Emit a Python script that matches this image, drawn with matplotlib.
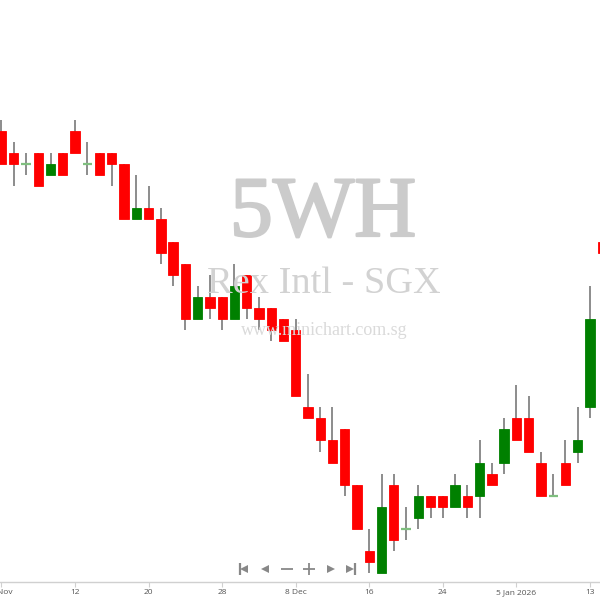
import matplotlib
matplotlib.use("Agg")
import matplotlib.pyplot as plt
import matplotlib.patheffects as pe

# trading days shown (4 Nov 2025 .. 14 Jan 2026)
dates = ["4 Nov", "5 Nov", "6 Nov", "7 Nov", "10 Nov", "11 Nov", "12 Nov", "13 Nov", "14 Nov",
         "17 Nov", "18 Nov", "19 Nov", "20 Nov", "21 Nov", "24 Nov", "25 Nov", "26 Nov", "27 Nov",
         "28 Nov", "1 Dec", "2 Dec", "3 Dec", "4 Dec", "5 Dec", "8 Dec", "9 Dec", "10 Dec", "11 Dec",
         "12 Dec", "15 Dec", "16 Dec", "17 Dec", "18 Dec", "19 Dec", "22 Dec", "23 Dec", "24 Dec",
         "26 Dec", "29 Dec", "30 Dec", "31 Dec", "2 Jan", "5 Jan", "6 Jan", "7 Jan", "8 Jan", "9 Jan",
         "12 Jan", "13 Jan", "14 Jan"]

opens = [.149, .147, .146, .147, .145, .147, .149, .146, .147, .147, .146, .141, .142, .141, .139,
         .137, .132, .134, .134, .132, .136, .133, .133, .132, .131, .124, .123, .121, .122, .117,
         .111, .109, .117, .113, .114, .116, .116, .115, .116, .116, .118, .119, .123, .123, .119,
         .116, .119, .120, .124, .139]
highs = [.150, .148, .147, .147, .147, .147, .150, .148, .147, .147, .146, .145, .144, .142, .139,
         .137, .135, .136, .134, .137, .136, .134, .133, .132, .132, .127, .124, .124, .122, .117,
         .113, .118, .118, .115, .117, .116, .116, .118, .117, .121, .119, .123, .126, .125, .120,
         .118, .121, .124, .135, .139]
lows = [.146, .144, .145, .144, .145, .145, .147, .145, .145, .144, .141, .141, .141, .137, .135,
        .131, .132, .132, .131, .132, .132, .131, .130, .130, .125, .123, .120, .119, .116, .113,
        .109, .109, .111, .112, .113, .114, .114, .115, .114, .114, .117, .118, .121, .120, .116,
        .116, .117, .119, .123, .138]
closes = [.146, .146, .146, .144, .146, .145, .147, .146, .145, .146, .141, .142, .141, .138, .136,
          .132, .134, .133, .132, .135, .133, .132, .131, .130, .125, .123, .121, .119, .117, .113,
          .110, .115, .112, .113, .116, .115, .115, .117, .115, .119, .117, .122, .121, .120, .116,
          .116, .117, .121, .132, .138]

tick_dates = ["4 Nov", "12 Nov", "20 Nov", "28 Nov", "8 Dec", "16 Dec", "24 Dec", "5 Jan", "13 Jan"]
tick_labels = ["4 Nov", "12", "20", "28", "8 Dec", "16", "24", "5 Jan 2026", "13"]

fig = plt.figure(figsize=(6, 6), dpi=100)
ax = fig.add_axes([0, 18 / 600, 1, 582 / 600])

x = list(range(len(dates)))
width = 0.76

ax.vlines(x, lows, highs, color="#8c8c8c", linewidth=1.4, zorder=2)
for i in x:
    o, c = opens[i], closes[i]
    if c == o:
        ax.hlines(o, i - width / 2, i + width / 2, color="#7fbf7f", linewidth=1.6, zorder=3)
    else:
        col = "#008000" if c > o else "#ff0000"
        ax.bar(i, c - o, bottom=o, width=width, color=col, edgecolor=col,
               linewidth=0.6, zorder=3)

ax.set_xlim(-0.122, 48.82)
ax.set_ylim(0.10819, 0.16086)

ax.set_xticks([dates.index(d) for d in tick_dates])
ax.set_xticklabels(tick_labels, fontfamily="Open Sans")
ax.tick_params(axis="x", length=3.6, width=0.8, color="#d0d0d0", labelsize=6,
               labelcolor="#555555", pad=1.5)
ax.set_yticks([])
for s in ["top", "left", "right"]:
    ax.spines[s].set_visible(False)
ax.spines["bottom"].set_color("#d0d0d0")
ax.spines["bottom"].set_linewidth(1)

# watermarks
fig.text(323 / 600, 1 - 236 / 600, "5WH", fontsize=62, family="Liberation Serif",
         color="#cbcbcb", ha="center", va="baseline", zorder=0,
         path_effects=[pe.withStroke(linewidth=1.6, foreground="#cbcbcb")])
fig.text(324 / 600, 1 - 293 / 600, "Rex Intl - SGX", fontsize=27.6, family="Liberation Serif",
         color="#d2d2d2", ha="center", va="baseline", zorder=0)
fig.text(324 / 600, 1 - 335 / 600, "www.minichart.com.sg", fontsize=13, family="Liberation Serif",
         color="#dadada", ha="center", va="baseline", zorder=0)
ax.patch.set_alpha(0)

# navigation buttons
nav_y = (600 - 569 - 18) / 582
nav = ax.transAxes
gray = "#888888"
ax.plot([240 / 600], [nav_y], marker="|", markersize=8, mew=1.6, color=gray, transform=nav, clip_on=False)
ax.plot([244.5 / 600], [nav_y], marker="<", markersize=6, mew=0, color=gray, transform=nav, clip_on=False)
ax.plot([265 / 600], [nav_y], marker="<", markersize=6, mew=0, color=gray, transform=nav, clip_on=False)
ax.plot([287 / 600], [nav_y], marker="_", markersize=9, mew=1.3, color=gray, transform=nav, clip_on=False)
ax.plot([309 / 600], [nav_y], marker="+", markersize=9, mew=1.3, color=gray, transform=nav, clip_on=False)
ax.plot([331 / 600], [nav_y], marker=">", markersize=6, mew=0, color=gray, transform=nav, clip_on=False)
ax.plot([350.5 / 600], [nav_y], marker=">", markersize=6, mew=0, color=gray, transform=nav, clip_on=False)
ax.plot([355 / 600], [nav_y], marker="|", markersize=8, mew=1.6, color=gray, transform=nav, clip_on=False)

fig.savefig("out.png", dpi=100, facecolor="white")
